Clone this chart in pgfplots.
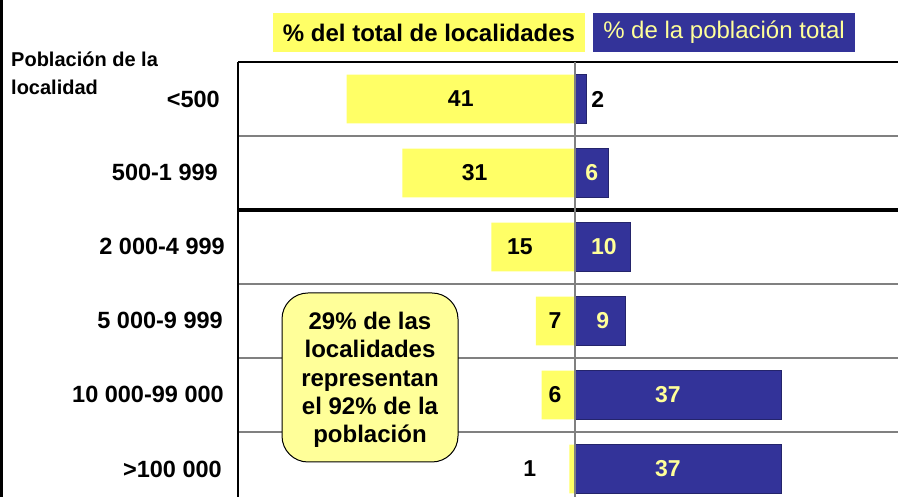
\documentclass[border=0pt]{standalone}
\usepackage{pgfplots}
\pgfplotsset{compat=1.18}
\usepackage{fontspec}
\setmainfont{Liberation Sans}
\definecolor{ybar}{HTML}{FFFF66}
\definecolor{bbar}{HTML}{333399}
\definecolor{ltext}{HTML}{FFFF99}
\definecolor{gline}{HTML}{808080}
\begin{document}
\begin{tikzpicture}[x=1pt,y=1pt]
\path[use as bounding box] (0,0) rectangle (898,497);
\draw[black, line width=2.5pt] (1.5,0) -- (1.5,497);
\begin{axis}[at={(238pt,0pt)}, anchor=south west, scale only axis,
  width=660pt, height=435pt, xmin=-60.5, xmax=58, ymin=0.5, ymax=6.378,
  y dir=reverse, hide axis, clip=false, xbar, bar width=0.66, bar shift=0pt]
\draw[gline, line width=1.5pt] (axis cs:-60.5,1.5) -- (axis cs:58,1.5);
\draw[gline, line width=1.5pt] (axis cs:-60.5,3.5) -- (axis cs:58,3.5);
\draw[gline, line width=1.5pt] (axis cs:-60.5,4.5) -- (axis cs:58,4.5);
\draw[gline, line width=1.5pt] (axis cs:-60.5,5.5) -- (axis cs:58,5.5);
\draw[black, line width=3.5pt] (axis cs:-60.5,2.5) -- (axis cs:58,2.5);
\draw[black, line width=1.5pt] (axis cs:-60.5,0.5) -- (axis cs:58,0.5);
\draw[black, line width=1.5pt] (axis cs:-60.5,0.5) -- (axis cs:-60.5,6.378);
\addplot[fill=ybar, draw=none] coordinates {(-41,1) (-31,2) (-15,3) (-7,4) (-6,5) (-1,6)};
\addplot[fill=bbar, draw=bbar!70!black] coordinates {(2,1) (6,2) (10,3) (9,4) (37,5) (37,6)};
\draw[gline, line width=1.5pt] (axis cs:0,0.5) -- (axis cs:0,6.378);
\begin{scope}[every node/.style={font=\bfseries\fontsize{23}{26}\selectfont}]
\node at (axis cs:-20.5,1) {41};
\node at (axis cs:-18,2) {31};
\node at (axis cs:-9.9,3) {15};
\node at (axis cs:-3.6,4) {7};
\node at (axis cs:-3.6,5) {6};
\node at (axis cs:-8.1,6) {1};
\node at (axis cs:4.1,1) {2};
\node[text=ltext] at (axis cs:3.0,2) {6};
\node[text=ltext] at (axis cs:5.2,3) {10};
\node[text=ltext] at (axis cs:5.0,4) {9};
\node[text=ltext] at (axis cs:16.7,5) {37};
\node[text=ltext] at (axis cs:16.7,6) {37};
\end{scope}
\end{axis}
\begin{scope}[every node/.style={font=\bfseries\fontsize{23.5}{26}\selectfont, anchor=east, inner sep=0pt}]
\node at (220,497-99) {<500};
\node at (218,497-172) {500-1 999};
\node at (225,497-246) {2 000-4 999};
\node at (223,497-320) {5 000-9 999};
\node at (224,497-394) {10 000-99 000};
\node at (222,497-469) {>100 000};
\end{scope}
\node[anchor=base west, font=\bfseries\fontsize{20}{24}\selectfont, inner sep=0pt] at (11,497-67) {Población de la};
\node[anchor=base west, font=\bfseries\fontsize{20}{24}\selectfont, inner sep=0pt] at (11,497-95) {localidad};
\node[fill=ybar, minimum width=312pt, minimum height=39pt, inner sep=0pt,
  font=\bfseries\fontsize{24}{26}\selectfont] at (429,497-32.5) {\% del total de localidades};
\node[fill=bbar, text=ltext, minimum width=262pt, minimum height=39pt, inner sep=0pt,
  font=\fontsize{24}{26}\selectfont] at (724,497-32.5) {\% de la población total};
\draw[fill=ltext, draw=black, line width=1pt, rounded corners=26pt] (282,497-462) rectangle (458,497-293);
\node[align=center, font=\bfseries\fontsize{24}{28.3}\selectfont] at (370,497-380) {29\% de las\\localidades\\representan\\el 92\% de la\\población};
\end{tikzpicture}
\end{document}
